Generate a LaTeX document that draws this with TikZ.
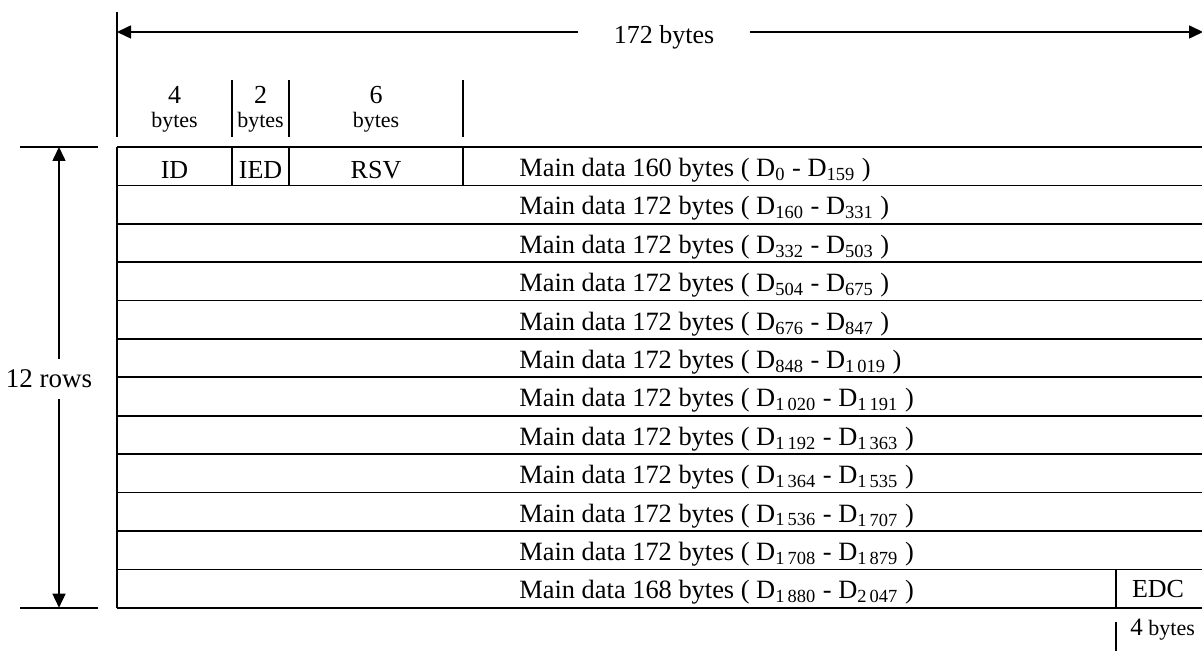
\documentclass[tikz,border=0pt]{standalone}
\usepackage{fontspec}
\setmainfont{Liberation Serif}
\usetikzlibrary{arrows.meta}
\tikzset{
  rule/.style={line width=0.8pt, draw=black},
  dimarrow/.style={rule, -{Triangle[length=7pt,width=6.5pt]}},
  cell/.style={anchor=base, inner sep=0pt, font=\fontsize{13}{15}\selectfont},
  hdrnum/.style={anchor=base, inner sep=0pt, font=\fontsize{13}{15}\selectfont},
  hdr/.style={anchor=base, inner sep=0pt, font=\fontsize{11}{13}\selectfont},
  rowtext/.style={anchor=base west, inner sep=0pt, font=\fontsize{13.2}{15}\selectfont},
  dimlabel/.style={inner sep=0pt, font=\fontsize{13}{15}\selectfont}
}
\begin{document}
\begin{tikzpicture}[x=0.5pt, y=-0.5pt]
\useasboundingbox (0,0) rectangle (1202,651);
% top dimension: 172 bytes
\coordinate (tl) at (117,32);
\coordinate (tr) at (1203,32);
\node[dimlabel, anchor=base, minimum width=86pt] (len) at (664,44) {172 bytes};
\draw[dimarrow] (len.west |- tl) -- (tl);
\draw[dimarrow] (len.east |- tr) -- (tr);
\draw[rule] (117,12) -- (117,137);
% header widths
\draw[rule] (232,80) -- (232,137);
\draw[rule] (289,80) -- (289,137);
\draw[rule] (463,80) -- (463,137);
\node[hdrnum] (w4) at (174.5,104) {4};
\node[hdr] (b4) at (174.5,128) {bytes};
\node[hdrnum] (w2) at (260.5,104) {2};
\node[hdr] (b2) at (260.5,128) {bytes};
\node[hdrnum] (w6) at (376,104) {6};
\node[hdr] (b6) at (376,128) {bytes};
% left dimension: 12 rows
\coordinate (rt) at (59,147);
\coordinate (rb) at (59,607.7);
\draw[rule] (20,147) -- (98,147);
\draw[rule] (20,607.7) -- (98,607.7);
\node[dimlabel, font=\fontsize{13.5}{15}\selectfont, minimum height=20pt] (rows) at (49,379) {12 rows};
\draw[dimarrow] (rows.north -| rt) -- (rt);
\draw[dimarrow] (rows.south -| rb) -- (rb);
% table
\draw[rule] (117,147) -- (117,607.7);
\draw[rule] (117,147) -- (1202,147);
\draw[rule] (117,185.4) -- (1202,185.4);
\draw[rule] (117,223.8) -- (1202,223.8);
\draw[rule] (117,262.2) -- (1202,262.2);
\draw[rule] (117,300.6) -- (1202,300.6);
\draw[rule] (117,339.0) -- (1202,339.0);
\draw[rule] (117,377.3) -- (1202,377.3);
\draw[rule] (117,415.7) -- (1202,415.7);
\draw[rule] (117,454.1) -- (1202,454.1);
\draw[rule] (117,492.5) -- (1202,492.5);
\draw[rule] (117,530.9) -- (1202,530.9);
\draw[rule] (117,569.3) -- (1202,569.3);
\draw[rule] (117,607.7) -- (1202,607.7);
\draw[rule] (232,147) -- (232,185.4);
\draw[rule] (289,147) -- (289,185.4);
\draw[rule] (463,147) -- (463,185.4);
\draw[rule] (1116,569.3) -- (1116,607.7);
\node[cell] (id) at (174.5,178.5) {ID};
\node[cell] (ied) at (260.5,178.5) {IED};
\node[cell] (rsv) at (376,178.5) {RSV};
\node[cell] (edc) at (1158,597.5) {EDC};
\node[rowtext] (r1) at (519,176.5) {Main data 160 bytes ( D\textsubscript{0} - D\textsubscript{159} )};
\node[rowtext] (r2) at (519,214.9) {Main data 172 bytes ( D\textsubscript{160} - D\textsubscript{331} )};
\node[rowtext] (r3) at (519,253.3) {Main data 172 bytes ( D\textsubscript{332} - D\textsubscript{503} )};
\node[rowtext] (r4) at (519,291.7) {Main data 172 bytes ( D\textsubscript{504} - D\textsubscript{675} )};
\node[rowtext] (r5) at (519,330.1) {Main data 172 bytes ( D\textsubscript{676} - D\textsubscript{847} )};
\node[rowtext] (r6) at (519,368.5) {Main data 172 bytes ( D\textsubscript{848} - D\textsubscript{1\,019} )};
\node[rowtext] (r7) at (519,406.8) {Main data 172 bytes ( D\textsubscript{1\,020} - D\textsubscript{1\,191} )};
\node[rowtext] (r8) at (519,445.2) {Main data 172 bytes ( D\textsubscript{1\,192} - D\textsubscript{1\,363} )};
\node[rowtext] (r9) at (519,483.6) {Main data 172 bytes ( D\textsubscript{1\,364} - D\textsubscript{1\,535} )};
\node[rowtext] (r10) at (519,522.0) {Main data 172 bytes ( D\textsubscript{1\,536} - D\textsubscript{1\,707} )};
\node[rowtext] (r11) at (519,560.4) {Main data 172 bytes ( D\textsubscript{1\,708} - D\textsubscript{1\,879} )};
\node[rowtext] (r12) at (519,598.8) {Main data 168 bytes ( D\textsubscript{1\,880} - D\textsubscript{2\,047} )};
% EDC width
\draw[rule] (1116,622) -- (1116,651);
\node[hdr, anchor=base west] (w4b) at (1130,635) {{\fontsize{12.5}{14}\selectfont 4} bytes};
\end{tikzpicture}
\end{document}
